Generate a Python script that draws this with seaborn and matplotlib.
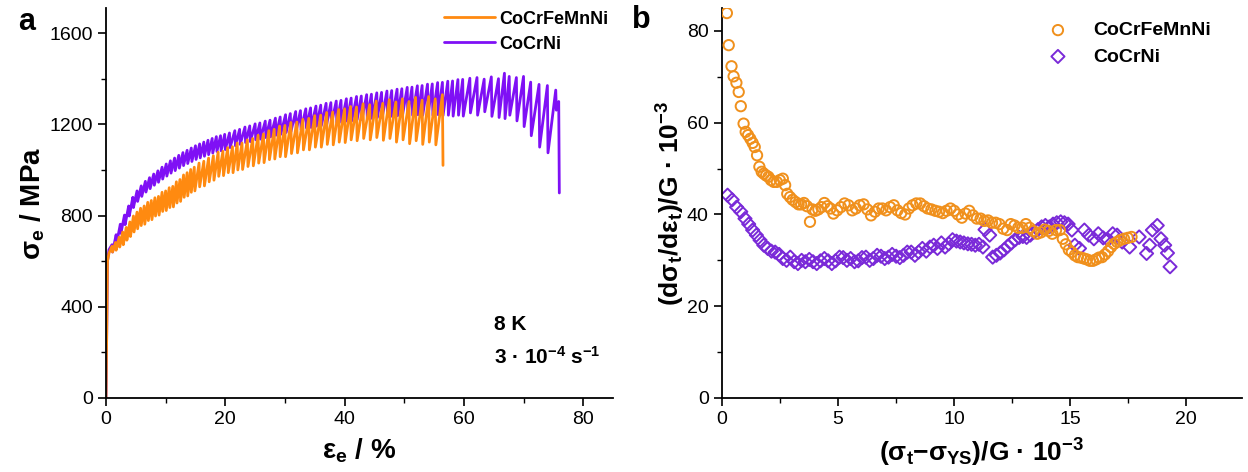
import numpy as np
import pandas as pd
import matplotlib
matplotlib.use("Agg")
import matplotlib.pyplot as plt
import seaborn as sns
from matplotlib.ticker import MultipleLocator

# ---------------- data: panel a (serrated stress-strain curves) ----------------
HEA_ELASTIC_STRAIN = [0.0, 0.1, 0.25, 0.5]
HEA_ELASTIC_STRESS = [0, 250, 600, 635]
HEA_PEAK_STRAIN = [1.0, 1.6, 2.2, 2.8, 3.4, 4.0, 4.6, 5.2, 5.8, 6.4, 7.0, 7.6, 8.2, 8.8, 9.4, 10.0,
                   10.6, 11.2, 11.8, 12.4, 13.0, 13.6, 14.2, 14.8,
                   15.6, 16.4, 17.2, 18.0, 18.8, 19.6, 20.4, 21.2, 22.0, 22.8,
                   23.7, 24.6, 25.5, 26.4, 27.3, 28.2, 29.1,
                   30.0, 31.0, 32.0, 33.0, 34.0, 35.0, 36.0, 37.0, 38.0, 39.0, 40.0, 41.0, 42.0,
                   43.1, 44.2, 45.3, 46.4, 47.5, 48.6, 49.7, 50.8, 51.9, 53.0, 54.1, 55.2, 56.4]
HEA_PEAK_STRESS = [665, 682, 705, 728, 748, 772, 798, 815, 832, 842, 858, 866, 878, 884, 902, 908,
                   922, 928, 948, 958, 978, 988, 1002, 1012,
                   1030, 1038, 1052, 1062, 1078, 1082, 1098, 1102, 1118, 1118,
                   1132, 1138, 1152, 1158, 1172, 1178, 1192,
                   1195, 1208, 1210, 1222, 1226, 1238, 1240, 1252, 1254, 1265, 1268, 1278, 1276,
                   1290, 1286, 1302, 1292, 1308, 1298, 1312, 1300, 1318, 1306, 1322, 1312, 1330]
HEA_VALLEY_STRESS = [640, 648, 662, 672, 692, 708, 728, 742, 756, 762, 778, 782, 798, 802, 818, 822,
                     835, 838, 855, 862, 880, 886, 902, 908,
                     926, 930, 948, 955, 972, 975, 988, 988, 1000, 1002,
                     1015, 1018, 1030, 1032, 1045, 1048, 1058,
                     1058, 1072, 1075, 1088, 1088, 1100, 1100, 1112, 1110, 1122, 1120, 1132, 1128,
                     1138, 1132, 1142, 1130, 1138, 1122, 1132, 1115, 1128, 1112, 1122, 1110, 1020]
HEA_END_STRAIN = []
HEA_END_STRESS = []

MEA_ELASTIC_STRAIN = [0.0, 0.12, 0.25, 0.5]
MEA_ELASTIC_STRESS = [0, 300, 600, 650]
MEA_PEAK_STRAIN = [1.0, 1.7, 2.4, 3.1, 3.8, 4.5, 5.2, 5.9, 6.6, 7.3, 8.0, 8.7, 9.4, 10.1, 10.8, 11.5,
                   12.2, 12.9, 13.6, 14.3, 15.0, 15.7, 16.4, 17.1, 17.8, 18.5, 19.2, 19.9,
                   20.7, 21.6, 22.4, 23.3, 24.1, 25.0, 25.8, 26.7, 27.5, 28.4, 29.2,
                   30.1, 30.9, 31.8, 32.6, 33.5, 34.3, 35.2, 36.0, 36.9, 37.7, 38.6, 39.4,
                   40.3, 41.1, 42.0, 42.8, 43.7, 44.5, 45.4, 46.2, 47.1, 47.9, 48.8, 49.6,
                   50.5, 51.3, 52.2, 53.0, 53.9, 54.7, 55.6, 56.4, 57.3, 58.1, 59.0, 59.8,
                   61.0, 62.2, 63.4, 64.6, 65.8, 66.8, 67.6, 68.8, 70.0, 71.2, 72.6, 74.0, 75.4]
MEA_PEAK_STRESS = [672, 716, 762, 802, 842, 880, 908, 930, 950, 966, 982, 996, 1012, 1026, 1040, 1052,
                   1064, 1076, 1086, 1096, 1106, 1114, 1122, 1130, 1138, 1146, 1150, 1156,
                   1162, 1172, 1178, 1188, 1193, 1202, 1206, 1214, 1218, 1227, 1232,
                   1242, 1247, 1256, 1260, 1268, 1272, 1280, 1284, 1292, 1295, 1302, 1305,
                   1312, 1315, 1322, 1324, 1330, 1332, 1338, 1340, 1346, 1348, 1354, 1356,
                   1362, 1363, 1369, 1370, 1376, 1377, 1383, 1384, 1389, 1390, 1396, 1397,
                   1402, 1405, 1398, 1408, 1400, 1424, 1410, 1405, 1410, 1385, 1375, 1370, 1350]
MEA_VALLEY_STRESS = [640, 680, 722, 760, 798, 835, 862, 884, 903, 918, 933, 946, 960, 973, 986, 997,
                     1008, 1019, 1028, 1037, 1046, 1053, 1060, 1067, 1074, 1081, 1084, 1089,
                     1098, 1106, 1112, 1120, 1124, 1132, 1135, 1142, 1145, 1152, 1156,
                     1164, 1168, 1174, 1177, 1184, 1186, 1192, 1194, 1200, 1202, 1207, 1208,
                     1214, 1215, 1220, 1221, 1226, 1226, 1230, 1230, 1234, 1234, 1238, 1238,
                     1240, 1240, 1242, 1240, 1242, 1240, 1242, 1238, 1240, 1236, 1240, 1236,
                     1250, 1240, 1255, 1235, 1230, 1225, 1240, 1215, 1190, 1150, 1100, 1075, 1262]
MEA_END_STRAIN = [75.9, 76.0]
MEA_END_STRESS = [1300, 899]

# ---------------- data: panel b (hardening rate) ----------------
HEA_X = [0.21, 0.29, 0.41, 0.50, 0.62, 0.72, 0.81, 0.93, 1.02, 1.12, 1.22, 1.32, 1.41, 1.51, 1.61, 1.71,
         1.80, 1.90, 2.00, 2.11, 2.23, 2.36, 2.49, 2.62, 2.72, 2.81, 2.93, 3.04, 3.17, 3.30, 3.41, 3.53,
         3.66, 3.79, 3.90, 4.02, 4.15, 4.28, 4.41, 4.54, 4.67, 4.80, 4.96, 5.12, 5.28, 5.45, 5.61, 5.77,
         5.93, 6.10, 6.26, 6.42, 6.59, 6.75, 6.91, 7.07, 7.24, 7.40, 7.56, 7.72, 7.89, 8.05, 8.21, 8.37,
         8.54, 8.70, 8.86, 9.02, 9.19, 9.35, 9.51, 9.67, 9.84, 10.00, 10.16, 10.33, 10.49, 10.65, 10.81,
         10.98, 11.14, 11.30, 11.46, 11.63, 11.79, 11.95, 12.11, 12.28, 12.44, 12.60, 12.76, 12.93, 13.09,
         13.25, 13.41, 13.58, 13.74, 13.90, 14.07, 14.23, 14.39, 14.55, 14.68, 14.81, 14.94, 15.07, 15.20,
         15.33, 15.46, 15.59, 15.72, 15.85, 15.98, 16.11, 16.24, 16.37, 16.50, 16.63, 16.76, 16.89, 17.02,
         17.15, 17.32, 17.48, 17.64]
HEA_Y = [83.9, 76.9, 72.3, 70.1, 68.7, 66.7, 63.6, 59.8, 58.0, 57.3, 56.5, 55.6, 54.7, 52.9, 50.4, 49.3,
         48.9, 48.5, 48.2, 47.5, 47.1, 47.1, 47.5, 47.8, 46.4, 44.5, 43.8, 43.2, 42.7, 42.2, 42.2, 42.5,
         41.8, 38.4, 41.1, 40.8, 41.1, 41.6, 42.5, 41.8, 41.3, 40.2, 40.9, 41.6, 42.4, 42.0, 40.9, 41.3,
         42.0, 42.2, 41.1, 39.8, 40.6, 41.3, 41.3, 40.9, 41.6, 42.0, 40.9, 40.3, 40.0, 41.3, 42.0, 42.4,
         42.4, 41.8, 41.3, 41.1, 40.8, 40.6, 40.3, 40.8, 41.3, 40.8, 40.0, 39.3, 40.2, 40.8, 39.8,
         39.1, 39.1, 38.6, 38.7, 38.2, 38.2, 37.9, 36.9, 36.6, 37.9, 37.6, 37.1, 37.1, 37.9,
         37.1, 36.4, 35.8, 36.1, 36.7, 36.4, 35.8, 36.6, 36.6, 34.7, 33.5, 32.3, 31.8, 31.1,
         30.7, 30.6, 30.4, 30.2, 29.9, 29.9, 30.2, 30.6, 30.7, 31.3, 32.0, 32.9, 33.6, 34.0,
         34.4, 34.7, 34.9, 35.1]
MEA_X = [0.24, 0.44, 0.63, 0.81, 0.99, 1.15, 1.32, 1.48, 1.64, 1.80, 1.97, 2.13, 2.29, 2.46, 2.62, 2.78,
         2.94, 3.11, 3.27, 3.43, 3.59, 3.76, 3.92, 4.08, 4.24, 4.41, 4.57, 4.73, 4.89, 5.06, 5.22, 5.38,
         5.54, 5.71, 5.87, 6.03, 6.20, 6.36, 6.52, 6.68, 6.85, 7.01, 7.17, 7.33, 7.50, 7.66, 7.82, 7.98,
         8.15, 8.31, 8.47, 8.63, 8.80, 8.96, 9.12, 9.28, 9.45, 9.61, 9.77, 9.93, 10.10, 10.26, 10.42,
         10.59, 10.75, 10.91, 11.07, 11.24, 11.33, 11.53, 11.66, 11.82, 11.98, 12.15, 12.31, 12.47, 12.63,
         12.80, 12.96, 13.12, 13.28, 13.45, 13.61, 13.77, 13.93, 14.10, 14.26, 14.42, 14.59, 14.75, 14.91,
         15.07, 15.20, 15.40, 15.61, 15.80, 16.02, 16.21, 16.42, 16.62, 16.83, 17.02, 17.24, 17.56, 17.97,
         18.29, 18.42, 18.54, 18.75, 18.91, 19.07, 19.19, 19.30]
MEA_Y = [44.2, 43.2, 41.6, 40.6, 39.1, 37.9, 36.6, 35.5, 34.4, 33.3, 32.6, 32.0, 31.8, 31.3, 30.4, 30.0,
         30.7, 29.7, 29.3, 30.0, 29.7, 30.2, 29.7, 29.3, 29.9, 30.4, 29.9, 29.3, 29.9, 30.7, 30.6, 30.0,
         30.4, 29.7, 29.9, 30.6, 30.7, 30.0, 30.4, 31.1, 30.9, 30.4, 30.7, 31.3, 30.9, 30.6, 31.1, 31.8,
         31.8, 31.1, 31.8, 32.6, 32.0, 32.9, 33.3, 32.6, 33.8, 32.9, 33.6, 34.5, 34.2, 34.0, 33.8,
         33.6, 33.5, 33.3, 33.5, 32.9, 36.7, 35.5, 30.7, 31.1, 31.6, 32.3, 33.1, 33.8, 34.5,
         35.0, 35.2, 35.0, 35.5, 36.2, 36.7, 37.3, 37.6, 37.3, 37.9, 38.2, 38.4, 38.2, 37.9,
         36.6, 33.3, 32.6, 36.6, 35.5, 34.7, 35.8, 34.9, 34.5, 35.8, 35.5, 34.0, 32.9, 35.1,
         31.5, 33.3, 36.6, 37.6, 34.7, 33.3, 31.6, 28.6]

LABEL_HEA = "CoCrFeMnNi"
LABEL_MEA = "CoCrNi"
ORANGE_LINE = "#FF8A10"
PURPLE_LINE = "#7F10F5"
ORANGE_MARK = "#F0901C"
PURPLE_MARK = "#7A2AD8"


def serrated(el_e, el_s, pk_e, pk_s, vl_s, end_e, end_s):
    e = list(el_e)
    s = list(el_s)
    for pe, ps, vs in zip(pk_e, pk_s, vl_s):
        e += [pe, pe + 0.1]
        s += [ps, vs]
    e += list(end_e)
    s += list(end_s)
    return pd.DataFrame({"strain": e, "stress": s})


df_hea = serrated(HEA_ELASTIC_STRAIN, HEA_ELASTIC_STRESS, HEA_PEAK_STRAIN, HEA_PEAK_STRESS,
                  HEA_VALLEY_STRESS, HEA_END_STRAIN, HEA_END_STRESS)
df_mea = serrated(MEA_ELASTIC_STRAIN, MEA_ELASTIC_STRESS, MEA_PEAK_STRAIN, MEA_PEAK_STRESS,
                  MEA_VALLEY_STRESS, MEA_END_STRAIN, MEA_END_STRESS)

sns.set_theme(style="ticks")
plt.rcParams["font.family"] = ["Liberation Sans", "DejaVu Sans"]
plt.rcParams["mathtext.fontset"] = "custom"
plt.rcParams["mathtext.rm"] = "Liberation Sans"
plt.rcParams["mathtext.it"] = "Liberation Sans:italic"
plt.rcParams["mathtext.bf"] = "Liberation Sans:bold"
plt.rcParams["text.color"] = "black"
plt.rcParams["axes.labelcolor"] = "black"

fig = plt.figure(figsize=(12.48, 4.72), dpi=100)
ax1 = fig.add_axes([106 / 1248, 74 / 472, (613 - 106) / 1248, (398 - 8) / 472])
ax2 = fig.add_axes([722 / 1248, 74 / 472, (1242 - 722) / 1248, (398 - 8) / 472])

# panel a
sns.lineplot(data=df_mea, x="strain", y="stress", sort=False, estimator=None, color=PURPLE_LINE,
             lw=2.0, ax=ax1, label=LABEL_MEA)
sns.lineplot(data=df_hea, x="strain", y="stress", sort=False, estimator=None, color=ORANGE_LINE,
             lw=2.0, ax=ax1, label=LABEL_HEA)
h, l = ax1.get_legend_handles_labels()
ax1.legend([h[1], h[0]], [l[1], l[0]], loc="upper left", bbox_to_anchor=(0.635, 1.035),
           frameon=False, handlelength=2.8, handletextpad=0.25, labelspacing=0.45,
           prop={"weight": "bold", "size": 13})
ax1.set_xlim(0, 85)
ax1.set_ylim(0, 1710)
ax1.xaxis.set_major_locator(MultipleLocator(20))
ax1.xaxis.set_minor_locator(MultipleLocator(10))
ax1.yaxis.set_major_locator(MultipleLocator(400))
ax1.yaxis.set_minor_locator(MultipleLocator(200))
ax1.set_xlabel("ε$_\\mathregular{e}$ / %", fontsize=20, fontweight="bold", labelpad=6)
ax1.set_ylabel("σ$_\\mathregular{e}$ / MPa", fontsize=20, fontweight="bold", labelpad=2)
ax1.text(0.765, 0.175, "8 K", transform=ax1.transAxes, fontsize=15, fontweight="bold")
ax1.text(0.765, 0.088, "3 · 10$^\\mathregular{-4}$ s$^\\mathregular{-1}$", transform=ax1.transAxes,
         fontsize=15, fontweight="bold")

# panel b
sns.scatterplot(x=HEA_X, y=HEA_Y, marker="o", s=55, facecolor="none", edgecolor=ORANGE_MARK,
                linewidth=1.4, ax=ax2, label=LABEL_HEA, zorder=3)
sns.scatterplot(x=MEA_X, y=MEA_Y, marker="D", s=45, facecolor="none", edgecolor=PURPLE_MARK,
                linewidth=1.4, ax=ax2, label=LABEL_MEA, zorder=2)
ax2.legend(loc="upper left", bbox_to_anchor=(0.575, 1.01), frameon=False, handletextpad=0.8,
           labelspacing=0.45, prop={"weight": "bold", "size": 14})
ax2.set_xlim(0, 22.4)
ax2.set_ylim(0, 85)
ax2.xaxis.set_major_locator(MultipleLocator(5))
ax2.xaxis.set_minor_locator(MultipleLocator(2.5))
ax2.yaxis.set_major_locator(MultipleLocator(20))
ax2.yaxis.set_minor_locator(MultipleLocator(10))
ax2.set_xlabel("(σ$_\\mathregular{t}$−σ$_\\mathregular{YS}$)/G · 10$^\\mathregular{-3}$", fontsize=19,
               fontweight="bold", labelpad=6)
ax2.set_ylabel("(dσ$_\\mathregular{t}$/dε$_\\mathregular{t}$)/G · 10$^\\mathregular{-3}$", fontsize=19,
               fontweight="bold", labelpad=0)

for ax in (ax1, ax2):
    sns.despine(ax=ax)
    for sp in ("left", "bottom"):
        ax.spines[sp].set_linewidth(1.3)
        ax.spines[sp].set_color("black")
    ax.tick_params(which="major", direction="out", length=6, width=1.2, labelsize=14, colors="black")
    ax.tick_params(which="minor", direction="out", length=3.5, width=1.0, colors="black")

fig.text(18 / 1248, 1 - 22 / 472, "a", fontsize=22, fontweight="bold", va="center")
fig.text(632 / 1248, 1 - 20 / 472, "b", fontsize=22, fontweight="bold", va="center")

fig.savefig("out.png", dpi=100)
